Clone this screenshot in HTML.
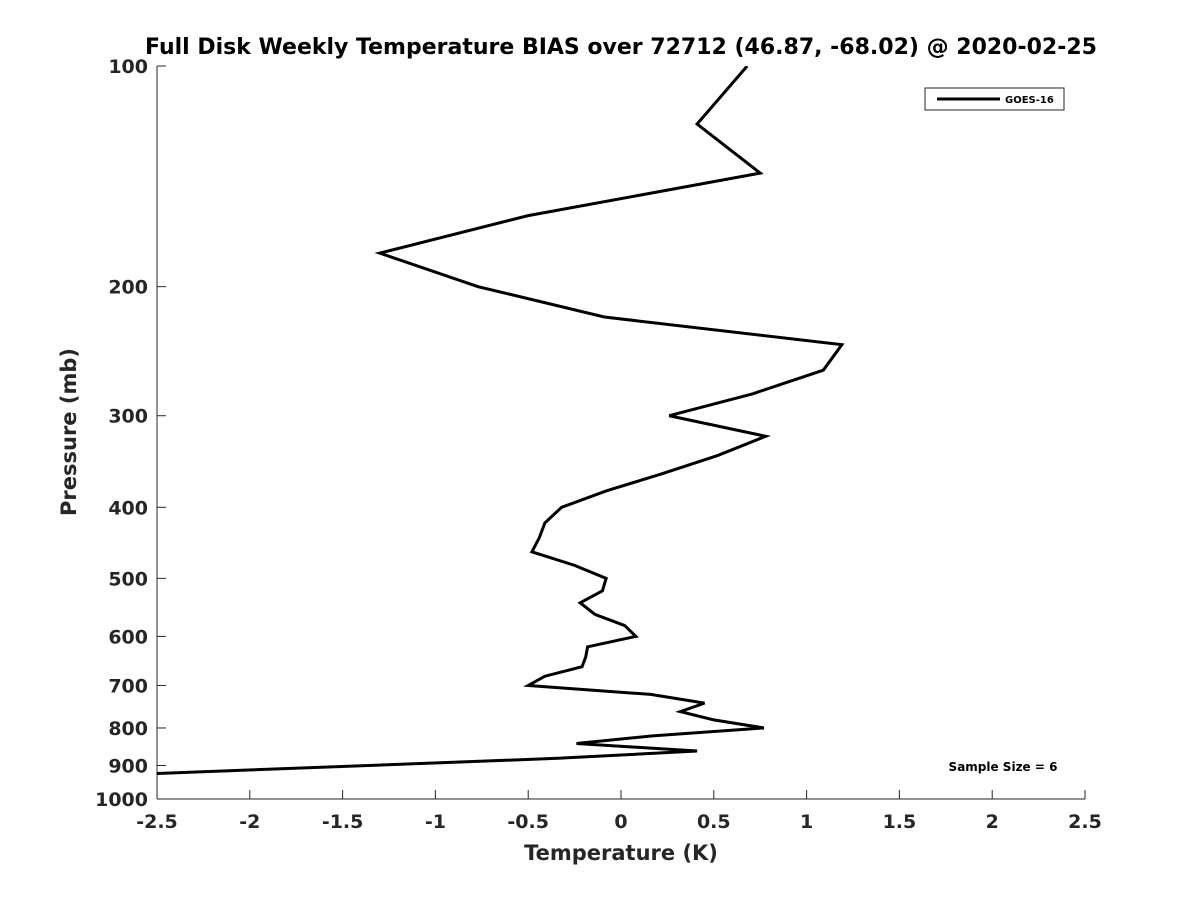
<!DOCTYPE html>
<html><head><meta charset="utf-8"><style>
body{margin:0;background:#fff;font-family:"DejaVu Sans","Liberation Sans",sans-serif;}
</style></head><body>
<svg width="1200" height="900" xmlns="http://www.w3.org/2000/svg" id="svg" font-family="DejaVu Sans, Liberation Sans, sans-serif">
<rect width="1200" height="900" fill="#fff"/>
<text x="621" y="54" text-anchor="middle" font-size="22" font-weight="bold">Full Disk Weekly Temperature BIAS over 72712 (46.87, -68.02) @ 2020-02-25</text>
<g id="axes"></g>
<defs><clipPath id="plotclip"><rect x="157" y="66" width="928" height="733"/></clipPath></defs>
<g id="series" clip-path="url(#plotclip)"></g>
<text x="621" y="860" text-anchor="middle" font-size="21" font-weight="bold" fill="#262626">Temperature (K)</text>
<text transform="translate(76,432) rotate(-90)" text-anchor="middle" font-size="21" font-weight="bold" fill="#262626">Pressure (mb)</text>
<g>
<rect x="925" y="88" width="139" height="22" fill="#fff" stroke="#262626" stroke-width="1"/>
<line x1="937" y1="99" x2="1000" y2="99" stroke="#000" stroke-width="3"/>
<text x="1005" y="103" font-size="10" font-weight="bold">GOES-16</text>
</g>
<text x="1003" y="771" text-anchor="middle" font-size="12" font-weight="bold">Sample Size = 6</text>
</svg>
<script>
const pressures=[100,120,140,160,180,200,220,240,260,280,300,320,340,360,380,400,420,440,460,480,500,520,540,560,580,600,620,640,660,680,700,720,740,760,780,800,820,840,860,880,925];
const biasValues=[0.68,0.41,0.75,-0.50,-1.30,-0.77,-0.09,1.19,1.09,0.71,0.26,0.78,0.52,0.22,-0.08,-0.32,-0.41,-0.44,-0.48,-0.25,-0.08,-0.10,-0.22,-0.14,0.02,0.08,-0.18,-0.19,-0.21,-0.41,-0.50,0.16,0.45,0.32,0.50,0.77,0.17,-0.24,0.41,-0.34,-2.6];
const xTicks=[-2.5,-2,-1.5,-1,-0.5,0,0.5,1,1.5,2,2.5];
const yTicks=[100,200,300,400,500,600,700,800,900,1000];
const NS="http://www.w3.org/2000/svg";
const X0=157,X1=1085,Y0=66,Y1=799;
function xs(v){return X0+(v+2.5)/5*(X1-X0);}
function ys(p){return Y0+Math.log10(p/100)*(Y1-Y0);}
function mk(t,a,parent){const e=document.createElementNS(NS,t);for(const k in a)e.setAttribute(k,a[k]);parent.appendChild(e);return e;}
const ax=document.getElementById('axes');
let l=mk('line',{x1:X0,y1:Y0,x2:X0,y2:Y1,stroke:'#262626','stroke-width':1},ax);


l=mk('line',{x1:X0,y1:Y1,x2:X1,y2:Y1,stroke:'#262626','stroke-width':1},ax);


xTicks.forEach(v=>{const x=xs(v);
 mk('line',{x1:x,y1:Y1,x2:x,y2:Y1-9,stroke:'#262626'},ax);
 const t=mk('text',{x:x,y:Y1+29,'text-anchor':'middle','font-size':19,'font-weight':'bold',fill:'#262626'},ax);
 t.textContent=String(v);
 
 });
yTicks.forEach(p=>{const y=ys(p);
 mk('line',{x1:X0,y1:y,x2:X0+9,y2:y,stroke:'#262626'},ax);
 const t=mk('text',{x:X0-9,y:y+7,'text-anchor':'end','font-size':19,'font-weight':'bold',fill:'#262626'},ax);
 t.textContent=String(p);
 
 });
const pts=pressures.map((p,i)=>xs(biasValues[i])+','+ys(p)).join(' ');
const pl=mk('polyline',{points:pts,fill:'none',stroke:'#000','stroke-width':3,'stroke-linejoin':'miter'},document.getElementById('series'));


</script>
</body></html>
